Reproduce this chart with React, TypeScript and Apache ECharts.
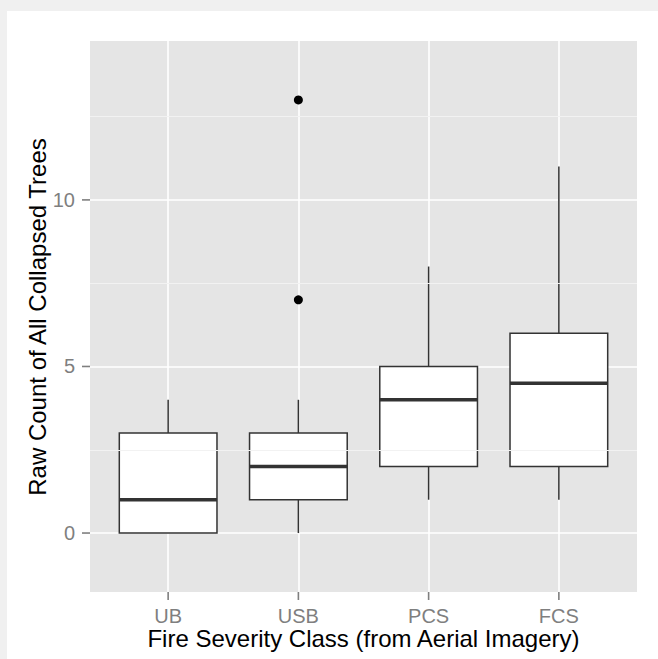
import React, { useEffect, useRef } from "react";
import * as echarts from "echarts";

const categories = ["UB", "USB", "PCS", "FCS"];
const whiskerLow = [0, 0, 1, 1];
const quartile1 = [0, 1, 2, 2];
const medians = [1, 2, 4, 4.5];
const quartile3 = [3, 3, 5, 6];
const whiskerHigh = [4, 4, 8, 11];
const outlierCategory = ["USB", "USB"];
const outlierValues = [13, 7];
const yTicks = [0, 5, 10];
const yMinorTicks = [2.5, 7.5, 12.5];
const xTicks = [1, 2, 3, 4];

const X_MIN = 0.4;
const X_MAX = 4.6;
const Y_MIN = -1.77;
const Y_MAX = 14.77;

const FONT = "'Liberation Sans', Arial, Helvetica, sans-serif";
const TICK_COLOR = "#7f7f7f";
const TICK_LEN = 8;
const TICK_W = 1.6;

export default function App() {
  const ref = useRef<HTMLDivElement>(null);

  useEffect(() => {
    document.body.style.margin = "0";
    const chart = echarts.init(ref.current!, undefined, { renderer: "svg" });
    const boxData = categories.map((c, i) => [
      i + 1,
      whiskerLow[i],
      quartile1[i],
      medians[i],
      quartile3[i],
      whiskerHigh[i],
    ]);
    const outlierData = outlierCategory.map((c, i) => [
      categories.indexOf(c) + 1,
      outlierValues[i],
    ]);
    const half = 0.375;
    const stroke = "#333333";
    const titles = [
      {
        type: "text",
        x: 363.5,
        y: 638,
        style: {
          text: "Fire Severity Class (from Aerial Imagery)",
          fontSize: 24,
          fontFamily: FONT,
          fill: "#000000",
          align: "center",
          verticalAlign: "middle",
        },
      },
      {
        type: "text",
        x: 37,
        y: 317,
        rotation: Math.PI / 2,
        style: {
          text: "Raw Count of All Collapsed Trees",
          fontSize: 24,
          fontFamily: FONT,
          fill: "#000000",
          align: "center",
          verticalAlign: "middle",
        },
      },
    ];
    chart.setOption({
      animation: false,
      grid: {
        left: 90,
        top: 41,
        right: 21,
        bottom: 67,
        show: true,
        backgroundColor: "#e5e5e5",
        borderWidth: 0,
      },
      xAxis: {
        type: "value",
        position: "bottom",
        min: X_MIN,
        max: X_MAX,
        axisLine: { show: false, onZero: false },
        axisTick: { show: false, customValues: xTicks },
        axisLabel: {
          customValues: xTicks,
          margin: 14,
          color: TICK_COLOR,
          fontSize: 20,
          fontFamily: FONT,
          formatter: (v: number) => categories[Math.round(v) - 1] ?? "",
        },
        splitLine: { show: true, lineStyle: { color: "#ffffff", width: 1.6 } },
      },
      yAxis: {
        type: "value",
        position: "left",
        min: Y_MIN,
        max: Y_MAX,
        axisLine: { show: false, onZero: false },
        axisTick: { show: false, customValues: yTicks },
        axisLabel: {
          customValues: yTicks,
          margin: 15,
          color: TICK_COLOR,
          fontSize: 20,
          fontFamily: FONT,
        },
        splitLine: { show: true, lineStyle: { color: "#ffffff", width: 1.6 } },
      },
      graphic: titles,
      series: [
        {
          type: "line",
          data: [],
          z: 1,
          silent: true,
          markLine: {
            silent: true,
            symbol: "none",
            label: { show: false },
            lineStyle: { color: "#f2f2f2", width: 1, type: "solid" },
            data: yMinorTicks.map((v) => ({ yAxis: v })),
          },
        },
        {
          type: "custom",
          z: 3,
          data: boxData,
          encode: { x: 0, y: [1, 2, 3, 4, 5] },
          renderItem: (params: any, api: any) => {
            const x = api.value(0);
            const lo = api.value(1);
            const q1 = api.value(2);
            const med = api.value(3);
            const q3 = api.value(4);
            const hi = api.value(5);
            const [xl, yq1] = api.coord([x - half, q1]);
            const [xr, yq3] = api.coord([x + half, q3]);
            const [xc, ylo] = api.coord([x, lo]);
            const yhi = api.coord([x, hi])[1];
            const ymed = api.coord([x, med])[1];
            return {
              type: "group",
              children: [
                {
                  type: "line",
                  shape: { x1: xc, y1: yq3, x2: xc, y2: yhi },
                  style: { stroke, lineWidth: 1.5 },
                },
                {
                  type: "line",
                  shape: { x1: xc, y1: yq1, x2: xc, y2: ylo },
                  style: { stroke, lineWidth: 1.5 },
                },
                {
                  type: "rect",
                  shape: { x: xl, y: yq3, width: xr - xl, height: yq1 - yq3 },
                  style: { fill: "#ffffff", stroke, lineWidth: 1.5 },
                },
                {
                  type: "line",
                  shape: { x1: xl, y1: ymed, x2: xr, y2: ymed },
                  style: { stroke, lineWidth: 3.5 },
                },
              ],
            };
          },
        },
        {
          type: "scatter",
          z: 4,
          data: outlierData,
          symbol: "circle",
          symbolSize: 9,
          itemStyle: { color: "#000000", opacity: 1 },
        },
      ],
    });

    const tickMarks: any[] = [];
    xTicks.forEach((v) => {
      const p = chart.convertToPixel({ gridIndex: 0 }, [v, Y_MIN]) as number[];
      tickMarks.push({
        type: "rect",
        z: 10,
        shape: { x: p[0] - TICK_W / 2, y: p[1], width: TICK_W, height: TICK_LEN },
        style: { fill: TICK_COLOR },
      });
    });
    yTicks.forEach((v) => {
      const p = chart.convertToPixel({ gridIndex: 0 }, [X_MIN, v]) as number[];
      tickMarks.push({
        type: "rect",
        z: 10,
        shape: { x: p[0] - TICK_LEN, y: p[1] - TICK_W / 2, width: TICK_LEN, height: TICK_W },
        style: { fill: TICK_COLOR },
      });
    });
    chart.setOption({ graphic: [...titles, ...tickMarks] });

    return () => chart.dispose();
  }, []);

  return (
    <div
      style={{
        position: "relative",
        width: 658,
        height: 659,
        background: "#f0f0f0",
        overflow: "hidden",
      }}
    >
      <div
        style={{
          position: "absolute",
          left: 7,
          top: 11,
          right: 0,
          bottom: 0,
          background: "#ffffff",
        }}
      />
      <div
        ref={ref}
        style={{ position: "absolute", left: 0, top: 0, width: 658, height: 659 }}
      />
    </div>
  );
}
